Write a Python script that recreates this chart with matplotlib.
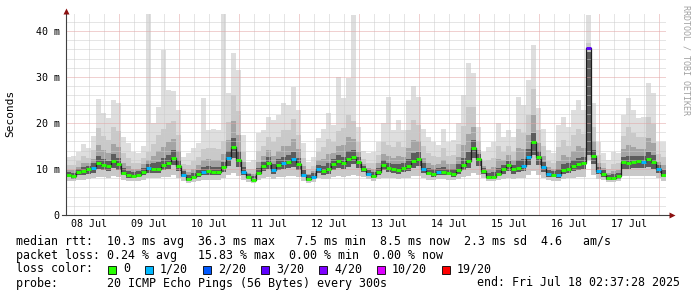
import numpy as np
import matplotlib
matplotlib.use("Agg")
import matplotlib.pyplot as plt
from matplotlib.patches import Rectangle

# ---------------- data ----------------
start_hour = 2.6244          # Jul 8 02:37:28 (hours after Jul 8 00:00)
step_hours = 2.0
day_labels = ["08 Jul", "09 Jul", "10 Jul", "11 Jul", "12 Jul",
              "13 Jul", "14 Jul", "15 Jul", "16 Jul", "17 Jul"]
y_ticks = [0, 10, 20, 30, 40]
y_tick_labels = ["0", "10 m", "20 m", "30 m", "40 m"]

median = [8.7, 8.4, 9.3, 9.6, 9.9, 10.2, 11.3, 10.9, 10.6, 11.8,
          11.0, 9.2, 8.6, 8.5, 8.8, 9.4, 10.2, 10.0, 10.1, 10.9,
          11.3, 12.5, 10.6, 8.8, 7.9, 8.3, 8.9, 9.3, 9.6, 9.3,
          9.4, 10.4, 12.4, 14.7, 12.0, 9.4, 8.2, 7.7, 9.2, 10.6,
          11.4, 9.8, 10.9, 11.2, 11.6, 12.1, 11.0, 8.7, 7.9, 8.3,
          10.0, 9.6, 9.9, 11.1, 11.7, 11.2, 12.1, 12.7, 11.6, 10.0,
          9.0, 8.5, 9.4, 10.8, 10.3, 10.0, 9.8, 10.3, 10.6, 11.7,
          12.2, 10.1, 9.2, 8.9, 9.4, 9.3, 9.2, 8.9, 9.8, 10.9,
          11.7, 14.6, 12.2, 9.5, 8.3, 8.3, 9.0, 9.9, 10.8, 9.9,
          10.3, 10.6, 12.6, 15.8, 12.6, 10.4, 8.9, 8.7, 8.6, 9.8,
          10.1, 10.6, 11.0, 11.3, 36.3, 12.9, 9.6, 8.9, 8.0, 8.0,
          8.4, 11.5, 11.4, 11.6, 11.8, 11.6, 12.1, 11.5, 9.9, 8.8]

loss = [0, 0, 0, 0, 0, 1, 0, 0, 0, 0,
        0, 0, 0, 0, 0, 0, 1, 0, 0, 0,
        0, 0, 0, 1, 0, 0, 0, 1, 0, 0,
        0, 0, 1, 0, 0, 1, 0, 0, 0, 0,
        0, 1, 0, 1, 0, 1, 0, 1, 0, 1,
        1, 0, 0, 0, 0, 0, 0, 0, 0, 0,
        1, 0, 0, 0, 0, 0, 0, 0, 0, 0,
        0, 1, 0, 0, 1, 0, 0, 0, 0, 0,
        0, 0, 0, 0, 0, 0, 0, 0, 0, 0,
        0, 1, 1, 0, 0, 1, 1, 0, 1, 0,
        0, 0, 0, 0, 3, 0, 1, 0, 0, 0,
        0, 0, 0, 0, 0, 1, 0, 0, 1, 0]

ping_max = [12.7, 12.9, 13.6, 15.4, 14.5, 17.2, 25.2, 22.2, 21.0, 25.0,
            24.3, 17.0, 15.6, 13.8, 13.4, 14.9, 43.6, 19.9, 23.5, 35.8,
            27.2, 27.0, 22.8, 12.7, 13.4, 14.5, 15.7, 25.4, 18.5, 18.8,
            18.5, 43.6, 26.5, 35.3, 31.5, 17.4, 11.6, 11.9, 17.9, 18.5,
            21.4, 20.7, 21.8, 24.3, 23.9, 27.9, 22.8, 15.6, 11.6, 12.7,
            16.7, 18.8, 22.1, 19.6, 30.1, 25.4, 29.7, 43.5, 19.2, 13.9,
            13.4, 13.7, 15.9, 19.9, 25.7, 18.5, 20.7, 18.5, 25.0, 28.0,
            25.7, 18.8, 17.0, 15.9, 15.2, 18.8, 15.9, 16.3, 19.9, 26.1,
            33.0, 30.8, 19.2, 13.7, 14.8, 15.9, 19.9, 17.0, 18.5, 17.0,
            25.7, 23.9, 29.3, 36.9, 23.2, 18.8, 14.1, 13.4, 19.6, 21.4,
            19.2, 22.8, 25.0, 22.8, 43.5, 24.3, 15.9, 13.4, 11.9, 13.7,
            13.4, 21.8, 25.4, 22.8, 21.0, 21.4, 28.6, 26.5, 15.9, 15.9]

q_top = [10.9, 10.9, 11.7, 12.8, 12.4, 14.1, 18.9, 17.1, 16.3, 19.1,
         18.3, 13.5, 12.5, 11.4, 11.3, 12.4, 13.8, 15.4, 17.5, 18.6,
         20.0, 20.5, 17.3, 11.0, 10.9, 11.7, 12.6, 14.4, 14.5, 14.5,
         14.4, 16.1, 20.2, 26.0, 22.7, 13.8, 10.1, 10.0, 14.0, 14.9,
         16.9, 15.8, 16.9, 18.4, 18.4, 20.8, 17.5, 12.5, 9.9, 10.7,
         13.7, 14.7, 16.6, 15.8, 18.3, 19.0, 21.8, 20.4, 15.8, 12.1,
         11.4, 11.4, 13.0, 15.8, 15.3, 14.7, 15.8, 14.8, 18.5, 20.7,
         19.6, 14.9, 13.5, 12.8, 12.6, 14.5, 12.9, 13.0, 15.4, 19.3,
         23.4, 23.5, 16.1, 11.8, 11.9, 12.5, 15.0, 13.8, 15.0, 13.8,
         18.8, 17.9, 21.8, 27.4, 18.4, 15.0, 11.8, 11.3, 14.7, 16.2,
         15.1, 17.3, 18.7, 17.6, 37.5, 19.2, 13.1, 11.4, 10.1, 11.1,
         11.2, 17.2, 19.1, 17.8, 16.9, 17.0, 21.2, 19.8, 13.2, 12.7]

q_high = [9.8, 9.7, 10.5, 11.2, 11.2, 12.2, 15.2, 14.1, 13.5, 15.5,
          14.7, 11.4, 10.6, 10.0, 10.1, 11.0, 12.0, 12.8, 13.9, 14.8,
          15.8, 16.6, 14.0, 9.9, 9.4, 10.0, 10.8, 11.9, 12.1, 12.0,
          11.9, 13.3, 16.3, 20.5, 17.5, 11.6, 9.2, 8.9, 11.6, 12.8,
          14.2, 12.9, 14.0, 14.9, 15.0, 16.5, 14.3, 10.6, 8.9, 9.5,
          11.9, 12.2, 13.3, 13.5, 15.1, 15.2, 17.0, 16.6, 13.7, 11.1,
          10.2, 10.0, 11.2, 13.3, 12.8, 12.4, 12.9, 12.6, 14.6, 16.3,
          16.0, 12.5, 11.4, 10.9, 11.0, 12.0, 11.1, 11.0, 12.6, 15.2,
          17.7, 19.1, 14.2, 10.7, 10.1, 10.4, 12.1, 11.9, 13.0, 11.9,
          14.6, 14.3, 17.3, 21.7, 15.6, 12.8, 10.4, 10.0, 11.7, 13.0,
          12.6, 14.0, 14.9, 14.5, 35.0, 16.1, 11.4, 10.2, 9.1, 9.6,
          9.8, 14.4, 15.3, 14.7, 14.4, 14.3, 16.7, 15.7, 11.6, 10.8]

core_hi = [9.4, 9.2, 10.0, 10.5, 10.7, 11.2, 12.8, 12.2, 11.8, 13.3,
           12.5, 10.2, 9.6, 9.3, 9.6, 10.2, 11.1, 11.2, 11.6, 12.4,
           13.0, 14.1, 12.0, 9.5, 8.7, 9.2, 9.8, 10.4, 10.7, 10.5,
           10.5, 11.6, 13.9, 16.8, 14.0, 10.4, 8.9, 8.4, 10.3, 11.6,
           12.6, 11.1, 12.2, 12.7, 13.0, 13.8, 12.3, 9.7, 8.6, 9.1,
           10.9, 10.7, 11.3, 12.2, 13.1, 12.7, 13.9, 14.2, 12.6, 10.7,
           9.8, 9.3, 10.3, 11.9, 11.4, 11.1, 11.1, 11.4, 12.2, 13.4,
           13.7, 11.2, 10.2, 9.9, 10.3, 10.5, 10.1, 9.9, 11.0, 12.5,
           13.8, 16.3, 13.2, 10.2, 9.2, 9.3, 10.3, 10.9, 11.8, 10.9,
           11.9, 12.1, 14.3, 17.9, 13.9, 11.5, 9.7, 9.5, 9.9, 11.1,
           11.2, 12.0, 12.5, 12.6, 35.5, 14.2, 10.5, 9.7, 8.7, 8.9,
           9.2, 12.7, 12.9, 12.9, 12.9, 12.8, 13.8, 13.1, 10.8, 9.8]

q_low = [8.2, 7.9, 8.6, 8.8, 9.0, 9.2, 10.0, 9.7, 9.5, 10.3,
         9.8, 8.6, 8.1, 8.0, 8.2, 8.7, 9.2, 9.1, 9.2, 9.7,
         10.0, 10.8, 9.5, 8.2, 7.5, 7.8, 8.3, 8.6, 8.8, 8.6,
         8.7, 9.4, 10.7, 12.3, 10.4, 8.7, 7.8, 7.3, 8.6, 9.5,
         10.1, 9.0, 9.7, 9.9, 10.2, 10.5, 9.8, 8.2, 7.5, 7.8,
         9.1, 8.8, 9.0, 9.8, 10.2, 10.0, 10.5, 11.0, 10.2, 9.3,
         8.5, 8.1, 8.8, 9.7, 9.4, 9.2, 9.0, 9.4, 9.6, 10.3,
         10.6, 9.2, 8.6, 8.3, 8.8, 8.7, 8.6, 8.3, 9.0, 9.8,
         10.3, 12.3, 10.6, 8.9, 7.9, 7.9, 8.4, 9.0, 9.6, 9.0,
         9.4, 9.6, 10.9, 13.0, 10.8, 9.4, 8.3, 8.2, 8.1, 9.0,
         9.2, 9.6, 9.8, 10.0, 13.0, 11.0, 8.9, 8.3, 7.6, 7.6,
         7.9, 10.1, 10.0, 10.2, 10.3, 10.2, 10.5, 10.1, 9.1, 8.2]

ping_min = [7.4, 7.3, 7.6, 7.7, 7.8, 8.0, 8.3, 8.2, 8.1, 8.4,
            8.2, 7.7, 7.4, 7.4, 7.5, 7.7, 8.0, 8.0, 8.0, 8.2,
            8.3, 8.6, 8.1, 7.5, 7.0, 7.2, 7.5, 7.6, 7.7, 7.6,
            7.6, 8.0, 8.6, 9.2, 8.5, 7.7, 7.2, 6.9, 7.6, 8.0,
            8.3, 7.9, 8.2, 8.2, 8.4, 8.5, 8.2, 7.5, 7.0, 7.2,
            8.0, 7.8, 7.9, 8.2, 8.4, 8.3, 8.5, 8.7, 8.4, 8.2,
            7.8, 7.5, 7.8, 8.1, 8.0, 8.0, 7.9, 8.0, 8.1, 8.4,
            8.5, 8.0, 7.7, 7.6, 7.8, 7.8, 7.7, 7.6, 7.9, 8.2,
            8.4, 9.2, 8.6, 8.0, 7.3, 7.3, 7.6, 7.9, 8.1, 7.9,
            8.0, 8.1, 8.7, 9.6, 8.6, 8.0, 7.6, 7.5, 7.4, 7.9,
            8.0, 8.1, 8.2, 8.3, 12.0, 8.7, 7.9, 7.6, 7.1, 7.1,
            7.3, 8.4, 8.4, 8.4, 8.5, 8.4, 8.5, 8.4, 8.0, 7.5]

loss_levels = [0, 1, 2, 3, 4, 10, 19]
loss_labels = ["0", "1/20", "2/20", "3/20", "4/20", "10/20", "19/20"]
loss_colors = ["#26ff00", "#00b8ff", "#0059ff", "#5e00ff",
               "#7e00ff", "#dd00ff", "#ff0000"]

legend_lines = [
    "median rtt:  10.3 ms avg  36.3 ms max   7.5 ms min  8.5 ms now  2.3 ms sd  4.6   am/s",
    "packet loss: 0.24 % avg   15.83 % max  0.00 % min  0.00 % now",
    "loss color:",
    "probe:       20 ICMP Echo Pings (56 Bytes) every 300s",
]
end_text = "end: Fri Jul 18 02:37:28 2025"
watermark = "RRDTOOL / TOBI OETIKER"

# ---------------- drawing ----------------
W, H = 697, 297
MONO = "DejaVu Sans Mono"
fig = plt.figure(figsize=(W / 100, H / 100), dpi=100)
fig.patch.set_facecolor("white")
px_per_unit = 4.6
ax = fig.add_axes([66 / W, 82 / H, 600 / W, 202 / H])
n = len(median)
ax.set_xlim(start_hour, start_hour + n * step_hours)
ax.set_ylim(0, 202 / px_per_unit)

edges = start_hour + step_hours * np.arange(n + 1)


def ext(a):
    a = np.asarray(a, dtype=float)
    return np.append(a, a[-1])


bands = [
    (ping_min, ping_max, "#dedede"),
    (ping_min, q_top, "#c9c9c9"),
    (q_low, q_high, "#a4a4a4"),
    (q_low, core_hi, "#5c5c5c"),
]
for lo, hi, col in bands:
    ax.fill_between(edges, ext(lo), ext(hi), step="post", color=col,
                    lw=0, zorder=1, antialiased=False)

# grid (drawn over the smoke, like rrdtool)
minor_c = "#cccccc"
major_c = "#e3a3a3"
dots = (0, (1, 1))
h = 6
while h < start_hour + n * step_hours:
    if h > start_hour:
        ax.axvline(h, color=major_c if h % 24 == 0 else minor_c,
                   lw=0.72, ls=dots, zorder=2)
    h += 6
for v in range(2, 44, 2):
    ax.axhline(v, color=major_c if v % 10 == 0 else minor_c,
               lw=0.72, ls=dots, zorder=2)


def loss_color(lv):
    c = loss_colors[0]
    for lev, col in zip(loss_levels, loss_colors):
        if lv >= lev:
            c = col
    return c


ax.step(edges, ext(median), where="post", color="#1e1e1e", lw=0.9, zorder=4)
ax.hlines(median, edges[:-1], edges[1:], colors=[loss_color(l) for l in loss],
          lw=2.1, zorder=5, capstyle="butt")

# axes lines and arrows
for s in ax.spines.values():
    s.set_visible(False)
axis_c = "#404040"
ax.plot([0, 0], [0, 1.0], transform=ax.transAxes, color=axis_c, lw=0.8,
        clip_on=False, zorder=6)
ax.plot([-4 / 600, 1 + 4 / 600], [0, 0], transform=ax.transAxes,
        color=axis_c, lw=0.8, clip_on=False, zorder=6)
ax.plot([0], [1 + 2.5 / 202], marker="^", ms=4.2, color="#8b1010",
        transform=ax.transAxes, clip_on=False, zorder=7, mec="none")
ax.plot([1 + 5.5 / 600], [0], marker=">", ms=4.2, color="#8b1010",
        transform=ax.transAxes, clip_on=False, zorder=7, mec="none")

ax.set_yticks(y_ticks)
ax.set_yticklabels(y_tick_labels, family=MONO, fontsize=7.2)
ax.set_xticks([12 + 24 * k for k in range(len(day_labels))])
ax.set_xticklabels(day_labels, family=MONO, fontsize=7.2)
ax.tick_params(axis="y", length=0, pad=4.5)
ax.tick_params(axis="x", length=0, pad=3.0)

fig.text(10 / W, 1 - 113 / H, "Seconds", rotation=90, ha="center",
         va="center", family=MONO, fontsize=8.0)
fig.text(686 / W, 1 - 5 / H, watermark, rotation=270, ha="center",
         va="top", family=MONO, fontsize=6.0, color="#a0a0a0")

line_y = [241, 255, 269, 283]
for txt, y in zip(legend_lines, line_y):
    fig.text(16 / W, 1 - y / H, txt, ha="left", va="center",
             family=MONO, fontsize=8.4)
fig.text(680 / W, 1 - 283 / H, end_text, ha="right", va="center",
         family=MONO, fontsize=8.4)

# loss colour boxes
x = 108
char_w = 7.0
for lab, col in zip(loss_labels, loss_colors):
    fig.add_artist(Rectangle((x / W, 1 - 273.5 / H), 8 / W, 8 / H,
                             transform=fig.transFigure, facecolor=col,
                             edgecolor="black", lw=0.6))
    fig.text((x + 15) / W, 1 - 269 / H, lab, ha="left", va="center",
             family=MONO, fontsize=8.4)
    x = x + 15 + len(lab) * char_w + 15

fig.savefig("out.png", dpi=100)
